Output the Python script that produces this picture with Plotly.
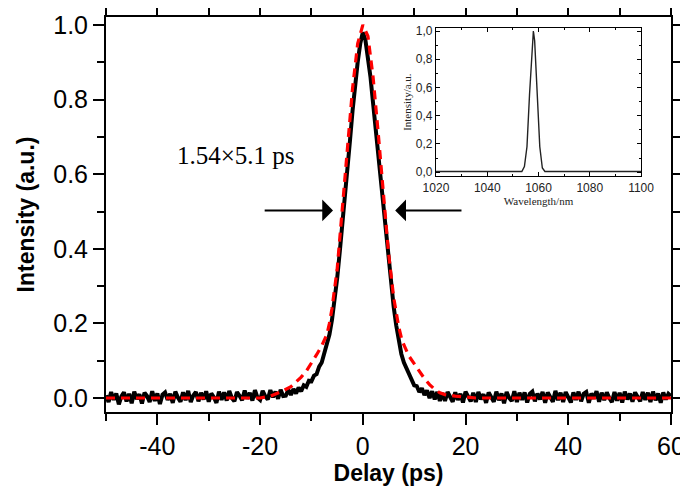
import plotly.graph_objects as go

# ---------------- data ----------------
# autocorrelation trace (black, noisy) - left tail, pulse, right tail
tail_left_delay = [
    -50, -49.5, -49, -48.5, -48, -47.5, -47, -46.5, -46, -45.5,
    -45, -44.5, -44, -43.5, -43, -42.5, -42, -41.5, -41, -40.5,
    -40, -39.5, -39, -38.5, -38, -37.5, -37, -36.5, -36, -35.5,
    -35, -34.5, -34, -33.5, -33, -32.5, -32, -31.5, -31, -30.5,
    -30, -29.5, -29, -28.5, -28, -27.5, -27, -26.5, -26, -25.5,
    -25, -24.5, -24, -23.5, -23, -22.5, -22, -21.5, -21, -20.5,
    -20, -19.5, -19, -18.5, -18, -17.5, -17, -16.5, -16, -15.5,
]
tail_left_intensity = [
    0.007, -0.011, 0.016, -0.005, 0.012, -0.017, 0.004, 0.015, -0.009, 0.011,
    -0.014, 0.017, -0.003, 0.010, -0.015, 0.014, 0.005, -0.011, 0.018, -0.008,
    0.012, -0.016, 0.009, 0.015, -0.005, 0.011, -0.013, 0.017, 0.001, -0.010,
    0.015, -0.006, 0.019, -0.011, 0.007, 0.016, -0.009, 0.014, -0.004, 0.018,
    -0.010, 0.012, 0.002, -0.013, 0.017, -0.005, 0.015, -0.007, 0.019, 0.000,
    -0.009, 0.016, 0.006, -0.006, 0.020, -0.002, 0.014, -0.007, 0.021, 0.001,
    -0.005, 0.019, 0.005, -0.004, 0.021, 0.002, 0.017, -0.002, 0.022, 0.005,
]
pulse_delay = [
    -15, -14.5, -14, -13.5, -13, -12.5, -12, -11.5, -11, -10.5, -10, -9.5, -9, -8.5,
    -8, -7.5, -7, -6.5, -6, -5.5, -5, -4.5, -4, -3.5, -3, -2.5, -2, -1.5, -1, -0.5,
    0, 0.5, 1, 1.5, 2, 2.5, 3, 3.5, 4, 4.5, 5, 5.5, 6, 6.5, 7, 7.5, 8, 8.5, 9, 9.5,
    10, 10.5, 11, 11.5, 12, 12.5, 13, 13.5, 14, 14.5, 15,
]
pulse_intensity = [
    0.006, 0.022, 0.008, 0.024, 0.012, 0.028, 0.018, 0.034, 0.030, 0.046, 0.045,
    0.060, 0.064, 0.084, 0.095, 0.118, 0.140, 0.170, 0.210, 0.260, 0.320, 0.390,
    0.460, 0.530, 0.610, 0.690, 0.770, 0.840, 0.900, 0.950,
    0.980, 0.960, 0.915, 0.860, 0.790, 0.720, 0.640, 0.570, 0.500, 0.430, 0.365,
    0.300, 0.245, 0.195, 0.150, 0.118, 0.095, 0.080, 0.062, 0.050, 0.034, 0.032,
    0.016, 0.026, 0.008, 0.020, 0.000, 0.018, -0.004, 0.016, -0.008,
]
tail_right_delay = [
    15.5, 16, 16.5, 17, 17.5, 18, 18.5, 19, 19.5, 20,
    20.5, 21, 21.5, 22, 22.5, 23, 23.5, 24, 24.5, 25,
    25.5, 26, 26.5, 27, 27.5, 28, 28.5, 29, 29.5, 30,
    30.5, 31, 31.5, 32, 32.5, 33, 33.5, 34, 34.5, 35,
    35.5, 36, 36.5, 37, 37.5, 38, 38.5, 39, 39.5, 40,
    40.5, 41, 41.5, 42, 42.5, 43, 43.5, 44, 44.5, 45,
    45.5, 46, 46.5, 47, 47.5, 48, 48.5, 49, 49.5, 50,
    50.5, 51, 51.5, 52, 52.5, 53, 53.5, 54, 54.5, 55,
    55.5, 56, 56.5, 57, 57.5, 58, 58.5, 59, 59.5, 60,
]
tail_right_intensity = [
    0.013, -0.008, 0.016, 0.002, -0.010, 0.015, -0.005, 0.011, -0.012, 0.017,
    0.001, -0.009, 0.014, -0.011, 0.016, -0.004, 0.010, -0.013, 0.015, 0.003,
    -0.010, 0.017, -0.006, 0.012, -0.014, 0.016, 0.000, -0.008, 0.018, -0.011,
    0.014, -0.005, 0.015, -0.012, 0.011, 0.017, -0.009, 0.012, -0.004, 0.016,
    -0.013, 0.015, 0.002, -0.010, 0.019, -0.006, 0.014, -0.011, 0.016, 0.001,
    -0.012, 0.015, -0.005, 0.017, -0.009, 0.011, 0.016, -0.013, 0.012, -0.002,
    0.018, -0.010, 0.014, -0.006, 0.015, 0.000, -0.011, 0.016, -0.007, 0.014,
    -0.012, 0.017, -0.004, 0.012, -0.010, 0.015, 0.002, -0.009, 0.016, -0.005,
    0.014, -0.011, 0.017, -0.006, 0.012, -0.013, 0.015, -0.004, 0.011, 0.005,
]

# fitted curve (red dashed)
fit_delay = [-50, -40, -30, -25, -20, -18, -16, -14, -13, -12, -11, -10, -9, -8,
             -7.5, -7, -6.5, -6, -5, -4, -3, -2, -1, 0, 1, 2, 3, 4, 5, 6, 6.5, 7,
             7.5, 8, 9, 10, 11, 12, 13, 14, 15, 16, 18, 20, 22, 30, 40, 50, 60]
fit_intensity = [0.0, 0.0, 0.0, 0.0, 0.0, 0.005, 0.016, 0.030, 0.042, 0.056,
                 0.072, 0.093, 0.116, 0.140, 0.153, 0.170, 0.200, 0.240, 0.345,
                 0.500, 0.670, 0.830, 0.950, 1.000, 0.970, 0.860, 0.710, 0.540,
                 0.390, 0.270, 0.225, 0.190, 0.162, 0.142, 0.112, 0.092, 0.072,
                 0.052, 0.036, 0.023, 0.014, 0.009, 0.005, 0.002, 0.0, 0.0, 0.0,
                 0.0, 0.0]

# inset spectrum
wavelength_nm = [1020, 1040, 1053.5, 1054.5, 1055.5, 1056.5, 1057.5, 1058, 1058.5,
                 1059.5, 1060.5, 1061.5, 1062.5, 1080, 1100]
spectrum = [0.005, 0.005, 0.005, 0.04, 0.18, 0.55, 0.92, 1.0, 0.93, 0.55, 0.18,
            0.03, 0.005, 0.005, 0.005]

main_x_ticks = [-40, -20, 0, 20, 40, 60]
main_x_ticktext = ["-40", "-20", "0", "20", "40", "60"]
main_y_ticks = [0.0, 0.2, 0.4, 0.6, 0.8, 1.0]
inset_x_ticks = [1020, 1040, 1060, 1080, 1100]
inset_y_ticks = [0.0, 0.2, 0.4, 0.6, 0.8, 1.0]
inset_y_ticktext = ["0,0", "0,2", "0,4", "0,6", "0,8", "1,0"]

pulse_label = "1.54×5.1 ps"

black_delay = tail_left_delay + pulse_delay + tail_right_delay
black_intensity = tail_left_intensity + pulse_intensity + tail_right_intensity

# ---------------- figure ----------------
SANS = "Arial, 'Liberation Sans', sans-serif"
SERIF = "'Times New Roman', 'Liberation Serif', serif"

fig = go.Figure()
fig.add_trace(go.Scatter(x=black_delay, y=black_intensity, mode="lines",
                         line=dict(color="black", width=4), showlegend=False,
                         xaxis="x", yaxis="y"))
fig.add_trace(go.Scatter(x=fit_delay, y=fit_intensity, mode="lines",
                         line=dict(color="#ff0000", width=3.2, dash="9px,6px"),
                         showlegend=False, xaxis="x", yaxis="y"))
fig.add_trace(go.Scatter(x=wavelength_nm, y=spectrum, mode="lines",
                         line=dict(color="#222222", width=1.4), showlegend=False,
                         xaxis="x2", yaxis="y2"))

main_axis = dict(showline=True, linewidth=2, linecolor="black", mirror="ticks",
                 ticks="outside", ticklen=11, tickwidth=2, tickcolor="black",
                 showgrid=False, zeroline=False, automargin=False,
                 tickfont=dict(family=SANS, size=25, color="black"))

# the page body adds an 8px offset, so the figure is 8px smaller on each side
fig.update_layout(
    width=680, height=481,
    margin=dict(l=98, r=17, t=9, b=77, autoexpand=False),
    paper_bgcolor="white", plot_bgcolor="white",
    xaxis=dict(main_axis, range=[-50, 60], domain=[0, 1], tickvals=main_x_ticks,
               ticktext=main_x_ticktext,
               minor=dict(dtick=10, tick0=0, ticks="outside", ticklen=7,
                          tickwidth=2, tickcolor="black"),
               title=dict(text="<b>Delay (ps)</b>", standoff=5,
                          font=dict(family=SANS, size=23, color="black"))),
    yaxis=dict(main_axis, range=[-0.0376, 1.0215], domain=[0, 1],
               tickvals=main_y_ticks, tickformat=".1f",
               minor=dict(dtick=0.1, tick0=0, ticks="outside", ticklen=7,
                          tickwidth=2, tickcolor="black"),
               title=dict(text="<b>Intensity (a.u.)</b>", standoff=12,
                          font=dict(family=SANS, size=23, color="black"))),
    xaxis2=dict(domain=[0.584, 0.947], anchor="y2", range=[1020, 1100],
                tickvals=inset_x_ticks, showline=True, linewidth=1,
                linecolor="black", mirror="ticks", ticks="inside", ticklen=4,
                tickcolor="black", showgrid=False, zeroline=False, automargin=False,
                minor=dict(dtick=10, tick0=1020, ticks="inside", ticklen=2,
                           tickcolor="black"),
                tickfont=dict(family=SANS, size=12, color="#222222"),
                title=dict(text="Wavelength/nm", standoff=2,
                           font=dict(family=SERIF, size=11, color="#222222"))),
    yaxis2=dict(domain=[0.597, 0.972], anchor="x2", range=[-0.028, 1.021],
                tickvals=inset_y_ticks, ticktext=inset_y_ticktext,
                showline=True, linewidth=1, linecolor="black", mirror="ticks",
                ticks="inside", ticklen=4, tickcolor="black", showgrid=False,
                zeroline=False, automargin=False,
                minor=dict(dtick=0.1, tick0=0, ticks="inside", ticklen=2,
                           tickcolor="black"),
                tickfont=dict(family=SANS, size=12, color="#222222"),
                title=dict(text="Intensity/a.u.", standoff=2,
                           font=dict(family=SERIF, size=11, color="#222222"))),
)

fig.add_annotation(x=-36.6, y=0.65, xref="x", yref="y", text=pulse_label,
                   showarrow=False, xanchor="left", yanchor="middle",
                   font=dict(family=SERIF, size=25, color="black"))
fig.add_annotation(x=-5.8, y=0.503, ax=-19.4, ay=0.503, xref="x", yref="y",
                   axref="x", ayref="y", text="", showarrow=True, arrowhead=1,
                   arrowsize=1.8, arrowwidth=2, arrowcolor="black")
fig.add_annotation(x=6.3, y=0.503, ax=19.5, ay=0.503, xref="x", yref="y",
                   axref="x", ayref="y", text="", showarrow=True, arrowhead=1,
                   arrowsize=1.8, arrowwidth=2, arrowcolor="black")

fig.write_html("out.html")
